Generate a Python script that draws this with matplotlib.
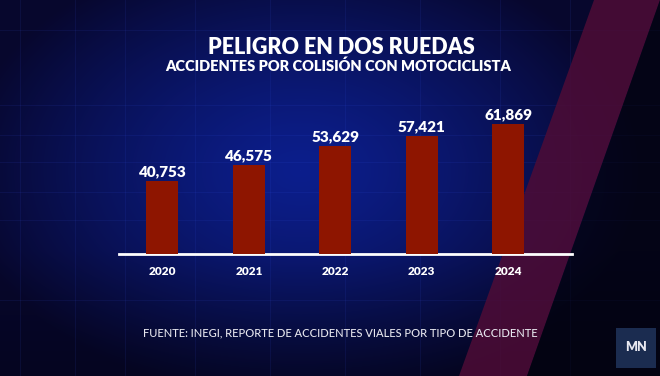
import numpy as np
import matplotlib
matplotlib.use("Agg")
import matplotlib.pyplot as plt
from matplotlib.patches import Polygon, Rectangle

years = ["2020", "2021", "2022", "2023", "2024"]
accidents = [40753, 46575, 53629, 57421, 61869]

title = "PELIGRO EN DOS RUEDAS"
subtitle = "ACCIDENTES POR COLISIÓN CON MOTOCICLISTA"
source = "FUENTE: INEGI, REPORTE DE ACCIDENTES VIALES POR TIPO DE ACCIDENTE"

plt.rcParams['font.family'] = ['Lato', 'DejaVu Sans']

W, H = 660, 376
fig = plt.figure(figsize=(W / 100, H / 100), dpi=100)

# background: dark blue radial glow
bg = fig.add_axes([0, 0, 1, 1])
bg.set_xlim(0, W)
bg.set_ylim(H, 0)
bg.axis('off')
yy, xx = np.mgrid[0:H, 0:W]
d = np.sqrt(((xx - 300) / 340.0) ** 2 + ((yy - 170) / 230.0) ** 2)
t = np.clip(d, 0, 1) ** 1.3
c0 = np.array([12, 30, 140]) / 255.0
c1 = np.array([7, 7, 45]) / 255.0
img = c0[None, None, :] * (1 - t[..., None]) + c1[None, None, :] * t[..., None]
img *= np.clip(1 - (yy[..., None] - 250) / 450.0, 0.5, 1)
bg.imshow(img, extent=(0, W, H, 0), aspect='auto', zorder=0)

# faint grid
for gx in [20, 75, 125, 195, 270, 345, 420, 500, 570]:
    bg.plot([gx, gx], [0, H], color='#4060ff', alpha=0.09, lw=0.8, zorder=1)
for gy in [30, 105, 135, 162, 192, 220, 300]:
    bg.plot([0, W], [gy, gy], color='#4060ff', alpha=0.09, lw=0.8, zorder=1)

# red diagonal stripe
bg.add_patch(Polygon([(594, 0), (660, 0), (527, H), (459, H)], closed=True,
                     facecolor='#4e0c36', edgecolor='none', alpha=0.85, zorder=2))
bg.add_patch(Polygon([(660, 0), (660, H), (527, H)], closed=True,
                     facecolor='#020208', edgecolor='none', alpha=0.6, zorder=2))

# MN logo
bg.add_patch(Rectangle((616, 328), 40, 40, facecolor='#1b2c50', edgecolor='none', zorder=3))
bg.text(636, 347, "MN", color='#e8e8f0', fontsize=9, fontweight='heavy',
        ha='center', va='center', zorder=4)

# chart
ax = fig.add_axes([119 / W, 1 - 253.5 / H, 453 / W, 153.5 / H])
ax.patch.set_alpha(0)
x = np.arange(len(years))
bars = ax.bar(x, accidents, width=0.37, color='#8e1500', zorder=3)
ax.set_xlim(-0.503, 4.737)
ax.set_ylim(14000, 70800)
for b, v in zip(bars, accidents):
    ax.annotate(f"{v:,}", (b.get_x() + b.get_width() / 2, v), xytext=(0, 2),
                textcoords='offset points', ha='center', va='bottom',
                color='white', fontsize=11, fontweight='heavy')
ax.set_xticks(x)
ax.set_xticklabels(years, fontsize=8.5, fontweight='heavy', color='white')
ax.tick_params(axis='x', length=0, pad=9)
ax.set_yticks([])
for s in ['left', 'right', 'top']:
    ax.spines[s].set_visible(False)
ax.spines['bottom'].set_color('white')
ax.spines['bottom'].set_linewidth(2)

fig.text(341 / W, 1 - 47 / H, title, ha='center', va='center', color='white',
         fontsize=15.5, fontweight='heavy')
fig.text(338 / W, 1 - 65.5 / H, subtitle, ha='center', va='center', color='white',
         fontsize=10.5, fontweight='heavy')
fig.text(340 / W, 1 - 332.5 / H, source, ha='center', va='center', color='#e6e6ee',
         fontsize=8, fontweight='medium')

fig.savefig("out.png", dpi=100)
